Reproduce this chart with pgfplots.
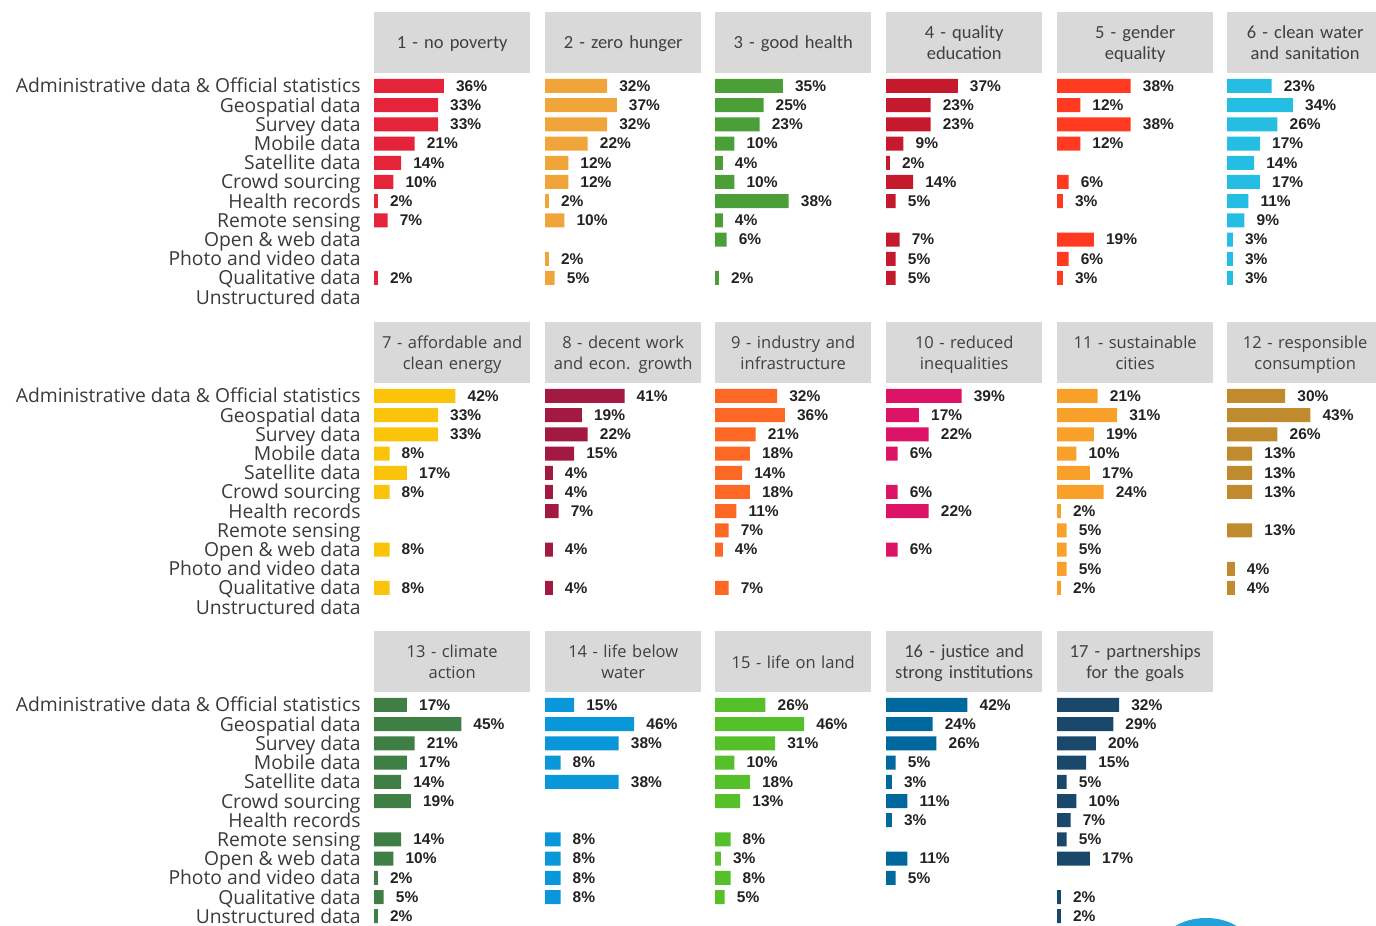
\documentclass[border=0pt]{standalone}
\usepackage{fontspec}
\usepackage{pgfplots}
\pgfplotsset{compat=1.18}
\setmainfont{Open Sans}
\newfontfamily\calibri{Carlito}
\newfontfamily\arial{Liberation Sans}

% SDG colours
\definecolor{sdg1}{HTML}{E5243B}
\definecolor{sdg2}{HTML}{EFA53A}
\definecolor{sdg3}{HTML}{4C9F38}
\definecolor{sdg4}{HTML}{C5192D}
\definecolor{sdg5}{HTML}{FF3A21}
\definecolor{sdg6}{HTML}{26BDE2}
\definecolor{sdg7}{HTML}{FCC30B}
\definecolor{sdg8}{HTML}{A21942}
\definecolor{sdg9}{HTML}{FD6925}
\definecolor{sdg10}{HTML}{DD1367}
\definecolor{sdg11}{HTML}{F9A02A}
\definecolor{sdg12}{HTML}{BF8B2E}
\definecolor{sdg13}{HTML}{3F7E44}
\definecolor{sdg14}{HTML}{0A97D9}
\definecolor{sdg15}{HTML}{56C02B}
\definecolor{sdg16}{HTML}{00689D}
\definecolor{sdg17}{HTML}{19486A}
\definecolor{hdrgray}{HTML}{D9D9D9}
\definecolor{hdrtext}{HTML}{404040}
\definecolor{labtext}{HTML}{3A3A3A}
\definecolor{valtext}{HTML}{222222}

\newcommand\hdrA{\calibri\fontsize{18.5}{21}\selectfont}
\newcommand\hdrB{\fontsize{16.5}{21}\selectfont}

\pgfplotsset{
  sdg/.style={
    xbar, scale only axis, anchor=north west,
    width=155.2pt, height=230.4pt,
    xmin=0, xmax=80, ymin=-0.5, ymax=11.5, y dir=reverse,
    axis line style={draw=none}, tick style={draw=none},
    xtick=\empty, ytick={0,...,11}, yticklabels={},
    bar width=14pt, clip=false,
    point meta=x,
    /pgf/number format/assume math mode=true,
    nodes near coords={\pgfmathprintnumber{\pgfplotspointmeta}\%},
    every node near coord/.append style={
      font=\arial\bfseries\fontsize{15.5}{18}\selectfont,
      text=valtext, anchor=west, inner sep=0pt, xshift=12pt},
    title style={at={(0,1)}, anchor=south west, yshift=-2.6pt,
      fill=hdrgray, text=hdrtext, minimum width=156pt, minimum height=61pt,
      text width=156pt, align=center, inner sep=0pt},
  },
  cats/.style={
    yticklabels={Administrative data \& Official statistics, Geospatial data,
      Survey data, Mobile data, Satellite data, Crowd sourcing, Health records,
      Remote sensing, Open \& web data, Photo and video data, Qualitative data,
      Unstructured data},
    yticklabel style={font=\fontsize{19.3}{22}\selectfont, text=labtext,
      anchor=base east, inner sep=0pt, xshift=-9pt, yshift=-7pt},
  },
}

% header text, set a little below the middle of its grey box
\newcommand{\hdr}[1]{\raisebox{-2.5pt}[\height][\depth]{\begin{tabular}{@{}c@{}}#1\end{tabular}}}

% #1 left, #2 top (from bottom), #3 colour, #4 header, #5 header font, #6 extra, #7 data
\newcommand{\sdgpanel}[7]{%
  \begin{axis}[sdg, at={(#1pt,#2pt)}, title={\hdr{#4}}, title style={font=#5}, #6]
    \addplot[fill=#3, draw=none] coordinates {#7};
  \end{axis}}

\begin{document}
\begin{tikzpicture}
\useasboundingbox (0,0) rectangle (1376pt,926pt);

% row 1
\sdgpanel{374}{849.6}{sdg1}{1 - no poverty}{\hdrA}{cats}
  {(36,0) (33,1) (33,2) (21,3) (14,4) (10,5) (2,6) (7,7) (2,10)}
\sdgpanel{545}{849.6}{sdg2}{2 - zero hunger}{\hdrA}{}
  {(32,0) (37,1) (32,2) (22,3) (12,4) (12,5) (2,6) (10,7) (2,9) (5,10)}
\sdgpanel{715}{849.6}{sdg3}{3 - good health}{\hdrA}{}
  {(35,0) (25,1) (23,2) (10,3) (4,4) (10,5) (38,6) (4,7) (6,8) (2,10)}
\sdgpanel{886}{849.6}{sdg4}{4 - quality\\education}{\hdrA}{}
  {(37,0) (23,1) (23,2) (9,3) (2,4) (14,5) (5,6) (7,8) (5,9) (5,10)}
\sdgpanel{1057}{849.6}{sdg5}{5 - gender\\equality}{\hdrA}{}
  {(38,0) (12,1) (38,2) (12,3) (6,5) (3,6) (19,8) (6,9) (3,10)}
\sdgpanel{1227}{849.6}{sdg6}{6 - clean water\\and sanitation}{\hdrA}{}
  {(23,0) (34,1) (26,2) (17,3) (14,4) (17,5) (11,6) (9,7) (3,8) (3,9) (3,10)}

% row 2
\sdgpanel{374}{539.6}{sdg7}{7 - affordable and\\clean energy}{\hdrB}{cats}
  {(42,0) (33,1) (33,2) (8,3) (17,4) (8,5) (8,8) (8,10)}
\sdgpanel{545}{539.6}{sdg8}{8 - decent work\\and econ. growth}{\hdrB}{}
  {(41,0) (19,1) (22,2) (15,3) (4,4) (4,5) (7,6) (4,8) (4,10)}
\sdgpanel{715}{539.6}{sdg9}{9 - industry and\\infrastructure}{\hdrB}{}
  {(32,0) (36,1) (21,2) (18,3) (14,4) (18,5) (11,6) (7,7) (4,8) (7,10)}
\sdgpanel{886}{539.6}{sdg10}{10 - reduced\\inequalities}{\hdrB}{}
  {(39,0) (17,1) (22,2) (6,3) (6,5) (22,6) (6,8)}
\sdgpanel{1057}{539.6}{sdg11}{11 - sustainable\\cities}{\hdrB}{}
  {(21,0) (31,1) (19,2) (10,3) (17,4) (24,5) (2,6) (5,7) (5,8) (5,9) (2,10)}
\sdgpanel{1227}{539.6}{sdg12}{12 - responsible\\consumption}{\hdrB}{}
  {(30,0) (43,1) (26,2) (13,3) (13,4) (13,5) (13,7) (4,9) (4,10)}

% row 3
\sdgpanel{374}{230.6}{sdg13}{13 - climate\\action}{\hdrB}{cats}
  {(17,0) (45,1) (21,2) (17,3) (14,4) (19,5) (14,7) (10,8) (2,9) (5,10) (2,11)}
\sdgpanel{545}{230.6}{sdg14}{14 - life below\\water}{\hdrB}{}
  {(15,0) (46,1) (38,2) (8,3) (38,4) (8,7) (8,8) (8,9) (8,10)}
\sdgpanel{715}{230.6}{sdg15}{15 - life on land}{\hdrB}{}
  {(26,0) (46,1) (31,2) (10,3) (18,4) (13,5) (8,7) (3,8) (8,9) (5,10)}
\sdgpanel{886}{230.6}{sdg16}{16 - justice and\\strong institutions}{\hdrA}{}
  {(42,0) (24,1) (26,2) (5,3) (3,4) (11,5) (3,6) (11,8) (5,9)}
\sdgpanel{1057}{230.6}{sdg17}{17 - partnerships\\for the goals}{\hdrA}{}
  {(32,0) (29,1) (20,2) (15,3) (5,4) (10,5) (7,6) (5,7) (17,8) (2,10) (2,11)}

% part of a logo cut by the lower edge
\fill[color=sdg14!90!white] (1206pt,-22pt) ellipse [x radius=45pt, y radius=30pt];
\end{tikzpicture}
\end{document}
